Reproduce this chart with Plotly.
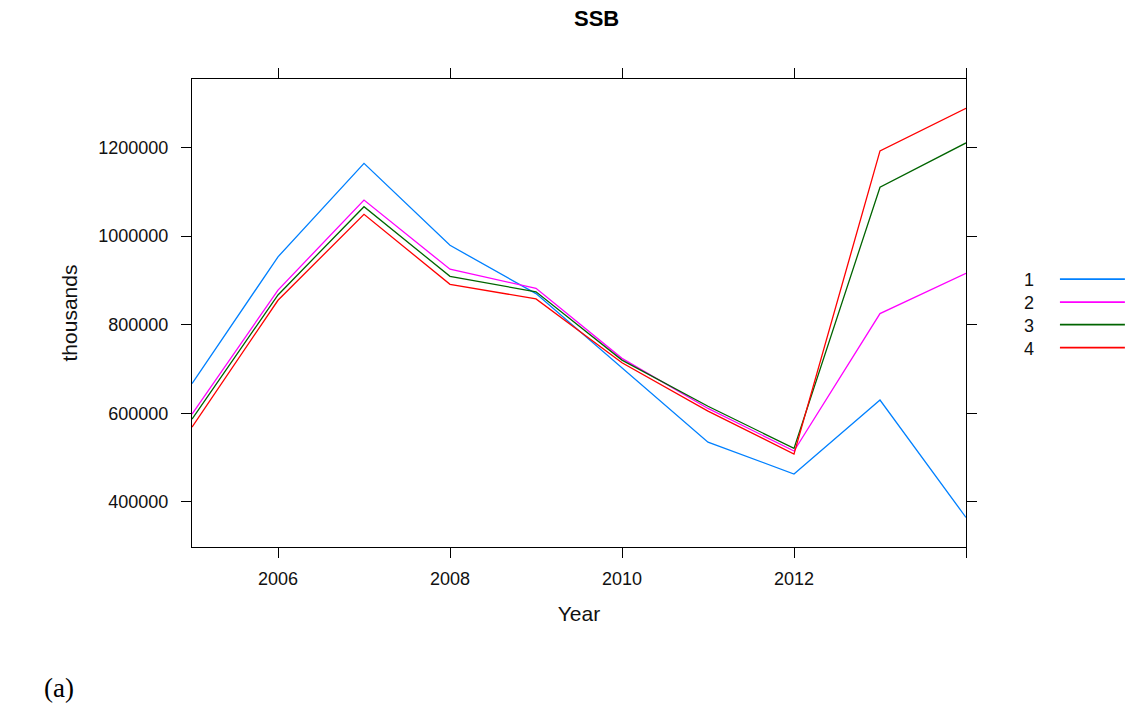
import plotly.graph_objects as go

years = [2005, 2006, 2007, 2008, 2009, 2010, 2011, 2012, 2013, 2014]
series_names = ["1", "2", "3", "4"]
s1 = [667000, 953000, 1164000, 979000, 870000, 702000, 535000, 463000, 630000, 365000]
s2 = [598000, 878000, 1081000, 925000, 882000, 724000, 611000, 515000, 825000, 916000]
s3 = [587000, 867000, 1066000, 909000, 874000, 720000, 616000, 521000, 1110000, 1210000]
s4 = [569000, 855000, 1049000, 891000, 858000, 714000, 605000, 508000, 1192000, 1288000]
colors = ["#0080ff", "#ff00ff", "#006400", "#ff0000"]

x_tickvals = [2006, 2008, 2010, 2012, 2014]
x_ticktext = ["2006", "2008", "2010", "2012", ""]
y_tickvals = [400000, 600000, 800000, 1000000, 1200000]
y_ticktext = ["400000", "600000", "800000", "1000000", "1200000"]

W, H = 1130, 727
L, R, T, B = 191.5, 966, 79, 546.7


def px(xp):
    return (xp - L) / (R - L)


def py(yp):
    return 1 - (yp - T) / (B - T)


fig = go.Figure()
for name, vals, col in zip(series_names, [s1, s2, s3, s4], colors):
    fig.add_trace(go.Scatter(x=years, y=vals, mode="lines", name=name,
                             line=dict(color=col, width=1.3), showlegend=False))

font = "Liberation Sans, Arial, sans-serif"
fig.update_layout(
    width=W, height=H,
    margin=dict(l=L, r=W - R, t=T, b=H - B, pad=0),
    paper_bgcolor="white", plot_bgcolor="white",
    font=dict(family=font, color="black"),
)
fig.update_xaxes(
    range=[2005, 2014], tickvals=x_tickvals, ticktext=x_ticktext,
    showgrid=False, zeroline=False, showline=True, linecolor="black", linewidth=1.3,
    mirror="allticks", ticks="outside", ticklen=10, tickwidth=1.3, tickcolor="black",
    tickfont=dict(size=18, color="#111"), ticklabelstandoff=5,
    title=dict(text="Year", font=dict(size=21, color="#111"), standoff=18),
)
fig.update_yaxes(
    range=[298400, 1354200], tickvals=y_tickvals, ticktext=y_ticktext,
    showgrid=False, zeroline=False, showline=True, linecolor="black", linewidth=1.3,
    mirror="allticks", ticks="outside", ticklen=10, tickwidth=1.3, tickcolor="black",
    tickfont=dict(size=18, color="#111"), ticklabelstandoff=9,
    title=dict(text="thousands", font=dict(size=21, color="#111"), standoff=14),
)

# title
fig.add_annotation(text="<b>SSB</b>", x=px(596), y=py(19), xref="paper", yref="paper",
                   showarrow=False, font=dict(size=22, family=font, color="black"),
                   xanchor="center", yanchor="middle")

# legend (labels left of line keys, as in lattice)
leg_y = [280, 303, 325.5, 348.5]
for name, col, yy in zip(series_names, colors, leg_y):
    fig.add_annotation(text=name, x=px(1036), y=py(yy), xref="paper", yref="paper",
                       showarrow=False, font=dict(size=18, family=font, color="#111"),
                       xanchor="right", yanchor="middle")
    fig.add_shape(type="line", xref="paper", yref="paper",
                  x0=px(1060), x1=px(1125), y0=py(yy - 1), y1=py(yy - 1),
                  line=dict(color=col, width=1.6))

# caption
fig.add_annotation(text="(a)", x=px(58), y=py(688), xref="paper", yref="paper",
                   showarrow=False,
                   font=dict(size=27, family="Liberation Serif, Times New Roman, serif", color="black"),
                   xanchor="center", yanchor="middle")

fig.write_html("out.html")
